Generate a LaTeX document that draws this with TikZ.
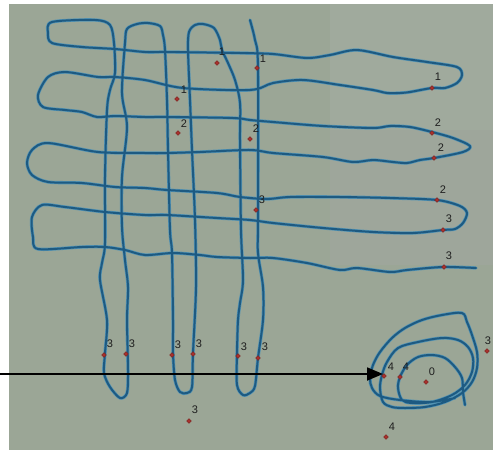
\documentclass[tikz,border=0pt]{standalone}
\usepackage{fontspec}
\setmainfont{Liberation Sans}
\usetikzlibrary{shapes.geometric,arrows.meta}
\definecolor{bgbase}{HTML}{9BA696}
\definecolor{bgtile}{HTML}{A0AA9D}
\definecolor{bgtileb}{HTML}{9EA69B}
\definecolor{inkcore}{HTML}{1D5A82}
\definecolor{inkhalo}{HTML}{5494B4}
\definecolor{dotred}{HTML}{A8302C}
\definecolor{labink}{HTML}{1E1E1E}
\tikzset{
  stroke/.style={line width=2pt, color=inkcore, line join=round, line cap=round,
    preaction={draw, line width=3.3pt, color=inkhalo, line join=round, line cap=round}},
  dotmark/.style={shape=diamond, fill=dotred, draw=dotred!70!black, line width=0.3pt,
    minimum size=5pt, inner sep=0pt},
  lab/.style={font=\fontsize{11}{11}\selectfont, text=labink, inner sep=0pt},
  pointer/.style={line width=1.8pt, color=black, -{Triangle[length=16pt,width=13pt]}}
}
\begin{document}
\begin{tikzpicture}[x=1pt,y=-1pt]
\useasboundingbox (0,0) rectangle (493,450);
\clip (0,0) rectangle (493,450);
% background tiles
\fill[bgbase] (9,4) rectangle (493,450);
\fill[bgtile] (330,4) rectangle (493,130);
\fill[bgtileb] (330,130) rectangle (493,265);
% serpentine grid stroke
\draw[stroke] plot[smooth, tension=0.5] coordinates {
(476,268) (443,267) (407,270) (390,272) (357,268) (340,270) (307,263) (273,258)
(250,258) (217,257) (200,255) (173,253) (145,255) (125,250) (105,247) (82,247)
(38,249) (33,237) (32,217) (42,205) (65,207) (105,212) (145,215) (167,215)
(217,218) (250,220) (273,223) (323,228) (373,232) (413,233) (443,230) (455,229)
(463,223) (467,213) (460,206) (437,200) (390,198) (340,197) (290,197) (267,199)
(240,197) (217,193) (167,190) (145,188) (115,187) (82,183) (48,182) (32,175)
(27,163) (32,150) (48,143) (98,152) (145,153) (167,153) (200,152) (250,150)
(273,153) (323,157) (353,162) (373,160) (393,162) (407,163) (420,160) (434,158)
(463,152) (470,146) (453,138) (432,132) (410,127) (390,126) (373,128) (323,126)
(273,122) (250,120) (233,118) (167,117) (145,117) (115,116) (97,117) (82,112)
(65,110) (43,107) (38,95) (48,77) (65,72) (98,77) (115,77) (145,80)
(183,88) (250,90) (273,83) (303,80) (340,85) (373,90) (387,93) (400,93)
(410,92) (432,88) (445,88) (457,83) (462,75) (457,67) (427,62) (393,57)
(357,50) (330,55) (307,58) (273,54) (240,53) (167,52) (145,52) (115,49)
(82,47) (52,43) (48,33) (52,22) (95,20) (110,25) (114,43) (115,73)
(110,90) (107,110) (105,177) (105,243) (102,263) (100,280) (107,320) (105,353)
(104,373) (110,387) (120,398) (127,393) (128,370) (127,320) (128,287) (125,260)
(122,227) (122,177) (127,127) (122,93) (125,43) (127,29) (137,24) (148,23)
(160,26) (163,35) (165,50) (167,100) (168,150) (170,230) (172,253) (173,320)
(173,353) (175,380) (180,392) (187,393) (192,387) (193,353) (196,287) (195,220)
(192,150) (190,100) (188,50) (189,32) (195,25) (203,24) (214,28) (220,40)
(222,50) (228,63) (235,80) (240,103) (240,140) (241,230) (243,280) (240,303)
(238,320) (237,353) (237,385) (243,395) (250,393) (255,386) (258,358) (263,320)
(263,287) (258,253) (258,220) (258,67) (255,40) (250,20)
};
% spiral
\draw[stroke] plot[smooth, tension=0.55] coordinates {
(455,398) (430,402) (400,400) (380,396) (372,388) (370,378) (373,365) (380,352)
(392,338) (405,328) (422,320) (442,315) (462,313) (467,322) (472,335) (477,352)
(477,368) (472,382) (462,393) (445,402) (425,407) (405,408) (392,407) (383,402)
(380,388) (382,375) (387,362) (398,348) (418,342) (442,338) (458,340) (468,347)
(473,358) (472,372) (465,385) (452,395) (432,402) (412,403) (402,400) (398,388)
(400,377) (407,365) (418,357) (432,355) (445,358) (455,367) (462,378) (463,392)
(465,405)
};
% points and labels
\node[dotmark] (p1) at (217,63) {};  \node[lab] (l1) at (222,52) {1};
\node[dotmark] (p2) at (257,68) {};  \node[lab] (l2) at (263,59) {1};
\node[dotmark] (p3) at (177,99) {};  \node[lab] (l3) at (184,90) {1};
\node[dotmark] (p4) at (178,133) {}; \node[lab] (l4) at (184,124) {2};
\node[dotmark] (p5) at (250,139) {}; \node[lab] (l5) at (256,129) {2};
\node[dotmark] (p6) at (432,88) {};  \node[lab] (l6) at (438,77) {1};
\node[dotmark] (p7) at (432,133) {}; \node[lab] (l7) at (438,123) {2};
\node[dotmark] (p8) at (434,158) {}; \node[lab] (l8) at (441,148) {2};
\node[dotmark] (p9) at (437,200) {}; \node[lab] (l9) at (443,190) {2};
\node[dotmark] (p10) at (256,210) {}; \node[lab] (l10) at (262,200) {3};
\node[dotmark] (p11) at (443,230) {}; \node[lab] (l11) at (449,219) {3};
\node[dotmark] (p12) at (444,267) {}; \node[lab] (l12) at (449,256) {3};
\node[dotmark] (p13) at (104,355) {}; \node[lab] (l13) at (110,344) {3};
\node[dotmark] (p14) at (126,354) {}; \node[lab] (l14) at (132,344) {3};
\node[dotmark] (p15) at (172,355) {}; \node[lab] (l15) at (178,345) {3};
\node[dotmark] (p16) at (193,354) {}; \node[lab] (l16) at (199,344) {3};
\node[dotmark] (p17) at (238,356) {}; \node[lab] (l17) at (244,347) {3};
\node[dotmark] (p18) at (258,358) {}; \node[lab] (l18) at (265,347) {3};
\node[dotmark] (p19) at (487,351) {}; \node[lab] (l19) at (488,341) {3};
\node[dotmark] (p20) at (384,376) {}; \node[lab] (l20) at (391,367) {4};
\node[dotmark] (p21) at (400,377) {}; \node[lab] (l21) at (406,367) {4};
\node[dotmark] (p22) at (426,382) {}; \node[lab] (l22) at (432,372) {0};
\node[dotmark] (p23) at (386,437) {}; \node[lab] (l23) at (392,427) {4};
\node[dotmark] (p24) at (189,421) {}; \node[lab] (l24) at (195,410) {3};
% pointer arrow
\coordinate (arrstart) at (0,374);
\coordinate (arrtip) at (383,374);
\draw[pointer] (arrstart) -- (arrtip);
\end{tikzpicture}
\end{document}
